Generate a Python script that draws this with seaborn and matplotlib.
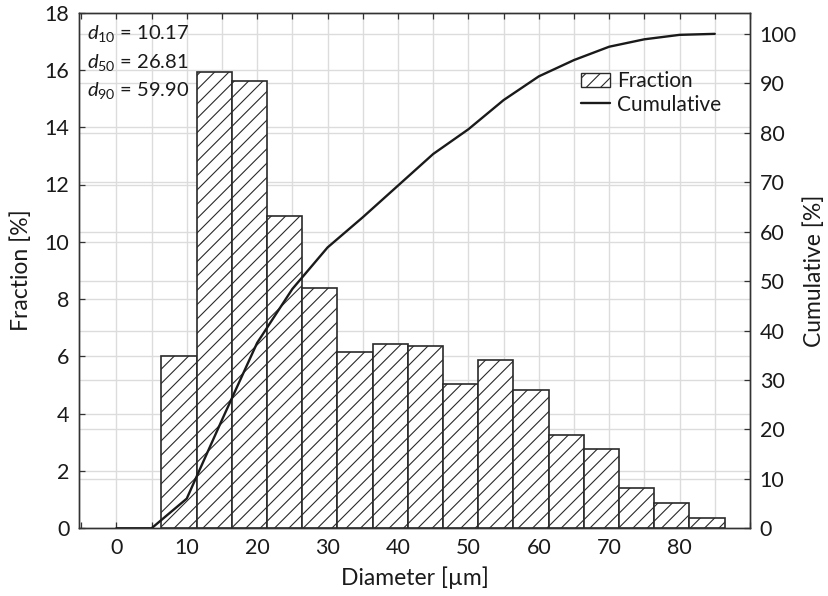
import numpy as np
import pandas as pd
import matplotlib
matplotlib.use("Agg")
import matplotlib.pyplot as plt
from matplotlib.ticker import MultipleLocator
from matplotlib.patches import Patch
from matplotlib.lines import Line2D
import seaborn as sns

# ---- data ----
fraction = [6.02, 15.92, 15.62, 10.90, 8.38, 6.16, 6.42, 6.37,
            5.03, 5.87, 4.83, 3.27, 2.77, 1.41, 0.87, 0.35]
bin_left_edges = [6.4, 11.4, 16.4, 21.4, 26.4, 31.4, 36.4, 41.4,
                  46.4, 51.4, 56.4, 61.4, 66.4, 71.4, 76.4, 81.4]
bin_width = 5.0
cum_x = [0, 5, 10, 15, 20, 25, 30, 35, 40, 45, 50, 55, 60, 65, 70, 75, 80, 85]
cumulative = [0, 0, 6.0, 21.9, 37.5, 48.4, 56.8, 62.9, 69.3, 75.7,
              80.7, 86.6, 91.4, 94.7, 97.4, 98.9, 99.8, 100.0]
stats_labels = ["10", "50", "90"]
stats_values = ["10.17", "26.81", "59.90"]

# render at a lower dpi so that the '//' hatch is a little denser;
# all point sizes are scaled to keep the same pixel sizes.
DPI = 86
S = 100 / DPI

sns.set_theme(style="ticks")
plt.rcParams['font.family'] = ['Lato', 'DejaVu Sans']
plt.rcParams['mathtext.fontset'] = 'custom'
plt.rcParams['mathtext.rm'] = 'Lato'
plt.rcParams['mathtext.it'] = 'Lato:italic'
plt.rcParams['mathtext.bf'] = 'Lato:bold'
plt.rcParams['hatch.linewidth'] = 0.8 * S

FS_TICK = 15.5 * S
FS_LAB = 16.5 * S
FS_TXT = 14.5 * S
FS_LEG = 15 * S
TXT = '#1a1a1a'
GRID = '#dcdcdc'

fig = plt.figure(figsize=(828 / DPI, 596 / DPI), dpi=DPI)
ax = fig.add_axes([79/828, 1-528.3/596, (750-79)/828, (528.3-12.6)/596])
ax2 = ax.twinx()

centers = [l + bin_width/2 for l in bin_left_edges]
edges = bin_left_edges + [bin_left_edges[-1] + bin_width]
df = pd.DataFrame({"Diameter": centers, "Fraction": fraction})
sns.histplot(data=df, x="Diameter", weights="Fraction", bins=edges, ax=ax,
             color="white", edgecolor="#2a2a2a", linewidth=1.2 * S, alpha=1.0,
             stat="count", zorder=3)
for p in ax.patches:
    p.set_hatch('//')
    p.set_facecolor('white')
    p.set_edgecolor('#2a2a2a')

dfc = pd.DataFrame({"Diameter": cum_x, "Cumulative": cumulative})
sns.lineplot(data=dfc, x="Diameter", y="Cumulative", ax=ax2, color="#1a1a1a",
             linewidth=1.7 * S, zorder=4)

ax.set_xlim(-5.3, 90.0)
ax.set_ylim(0, 18)
ax2.set_ylim(0, 104.3)

ax.xaxis.set_major_locator(MultipleLocator(10))
ax.xaxis.set_minor_locator(MultipleLocator(5))
ax.yaxis.set_major_locator(MultipleLocator(2))
ax2.yaxis.set_major_locator(MultipleLocator(10))
ax.set_xticks(range(0, 81, 10))

# grids
ax.set_axisbelow(True)
ax.grid(False)
ax2.grid(False)
for xv in np.arange(0, 90, 5):
    ax.axvline(xv, color=GRID, lw=1.0 * S, zorder=0)
for yv in np.arange(2, 18, 2):
    ax.axhline(yv, color=GRID, lw=1.0 * S, zorder=0)
for yv in np.arange(10, 101, 10):
    ax.axhline(yv * 18 / 104.3, color=GRID, lw=1.0 * S, zorder=0)

tk = dict(direction='in', length=4 * S, width=0.9 * S, labelsize=FS_TICK,
          colors='#333333', labelcolor=TXT, pad=7 * S)
ax.tick_params(axis='x', which='both', top=True, **tk)
ax.tick_params(axis='y', which='both', **tk)
ax2.tick_params(axis='y', **tk)

ax.set_xlabel("Diameter [µm]", fontsize=FS_LAB, color=TXT, labelpad=6 * S)
ax.set_ylabel("Fraction [%]", fontsize=FS_LAB, color=TXT, labelpad=9 * S)
ax2.set_ylabel("Cumulative [%]", fontsize=FS_LAB, color=TXT, labelpad=5 * S)

for a in (ax, ax2):
    for s in a.spines.values():
        s.set_color('#333333')
        s.set_linewidth(1.0 * S)

# annotation
ys = [0.960, 0.904, 0.849]
for lab, val, yy in zip(stats_labels, stats_values, ys):
    ax.text(0.012, yy, r"$d_{%s}$ = %s" % (lab, val), transform=ax.transAxes,
            fontsize=FS_TXT, color=TXT, ha='left', va='center', zorder=6)

handles = [Patch(facecolor='white', edgecolor='#2a2a2a', hatch='//', linewidth=1.0 * S),
           Line2D([0], [0], color='#1a1a1a', lw=1.7 * S)]
leg = ax2.legend(handles, ["Fraction", "Cumulative"], loc='upper left',
                 bbox_to_anchor=(0.748, 0.886), frameon=False, fontsize=FS_LEG,
                 handlelength=1.4, handleheight=0.7, handletextpad=0.35,
                 labelspacing=0.15, borderaxespad=0, borderpad=0)
for t in leg.get_texts():
    t.set_color(TXT)

fig.savefig("out.png", dpi=DPI)
